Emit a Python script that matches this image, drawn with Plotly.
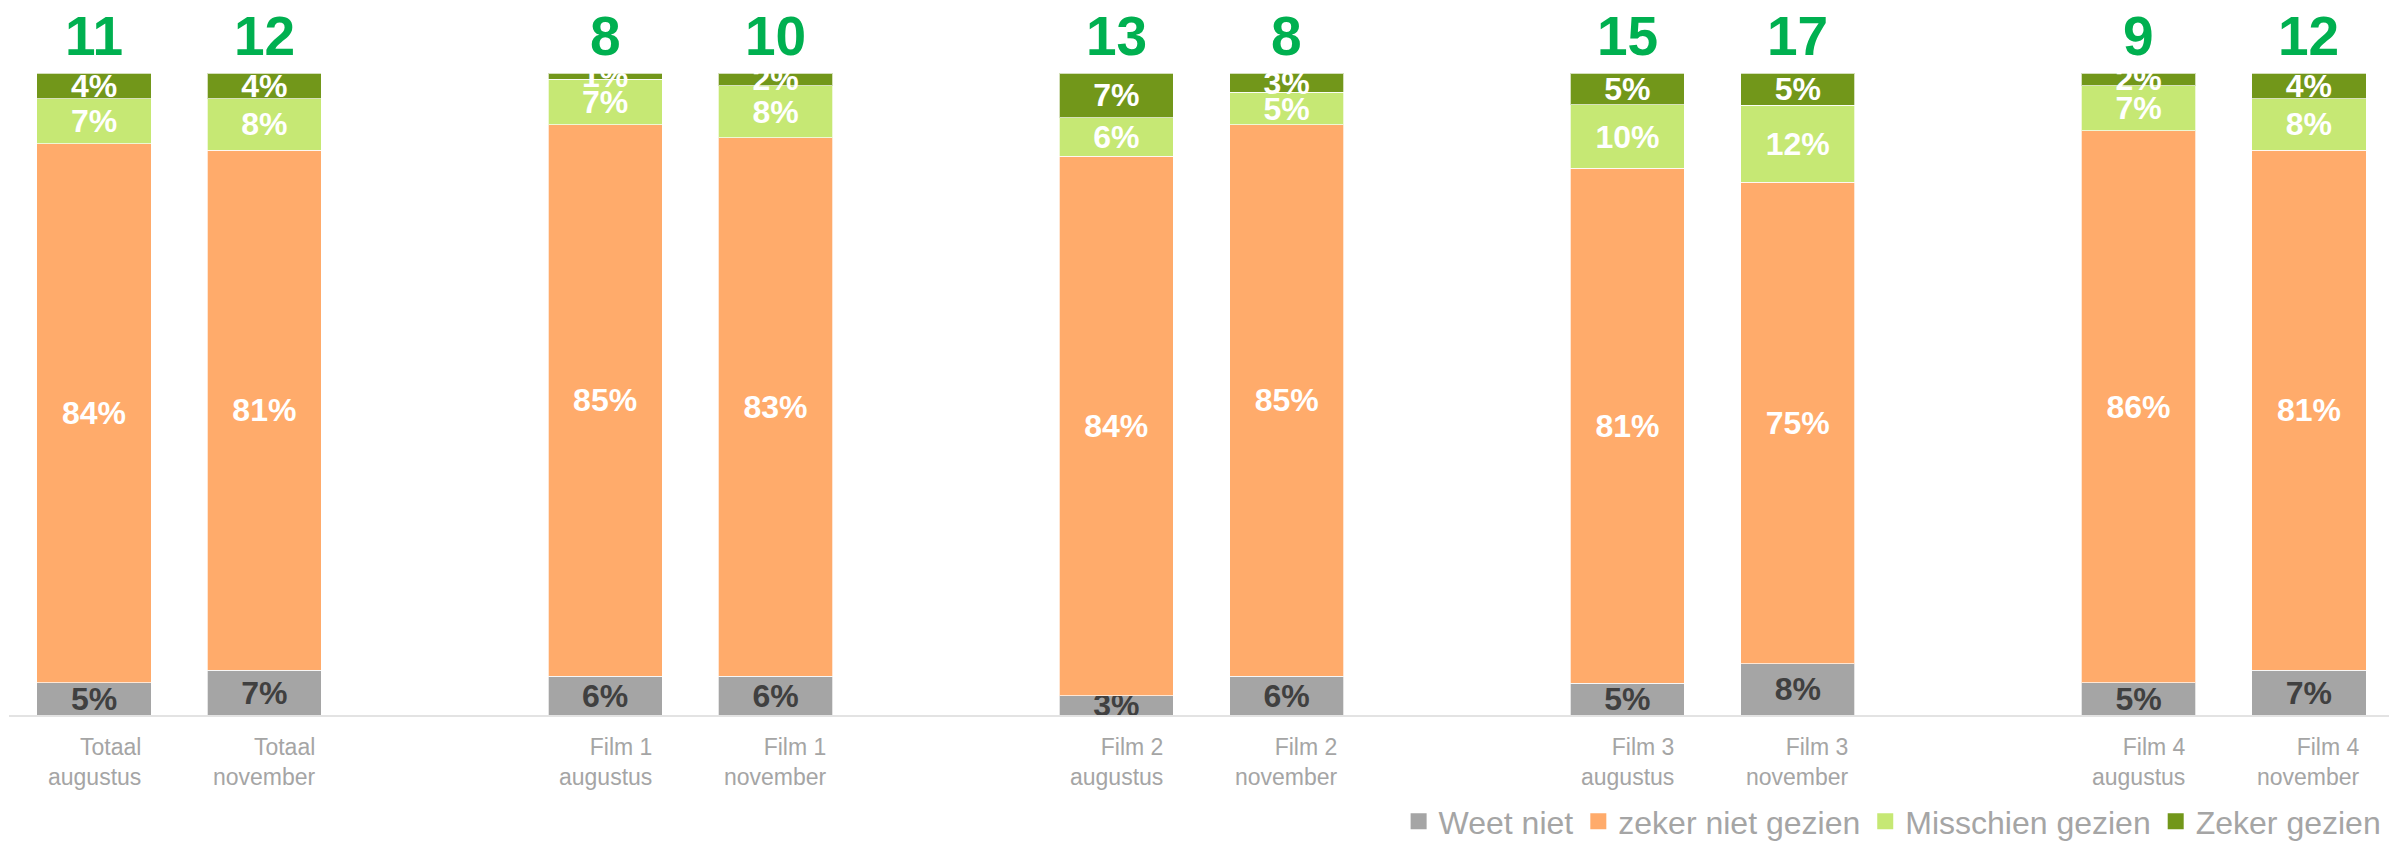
import plotly.graph_objects as go

groups = ["Totaal", "Film 1", "Film 2", "Film 3", "Film 4"]
months = ["augustus", "november"]

weet_niet = [5, 7, 6, 6, 3, 6, 5, 8, 5, 7]
zeker_niet = [84, 81, 85, 83, 84, 85, 81, 75, 86, 81]
misschien = [7, 8, 7, 8, 6, 5, 10, 12, 7, 8]
zeker = [4, 4, 1, 2, 7, 3, 5, 5, 2, 4]

series_names = ["Weet niet", "zeker niet gezien", "Misschien gezien", "Zeker gezien"]
series_values = [weet_niet, zeker_niet, misschien, zeker]
series_colors = ["#A5A5A5", "#FFAB6B", "#C6E874", "#72971A"]
text_colors = ["#404040", "white", "white", "white"]

# positions: two bars per group, one empty slot between groups
xpos = []
labels = []
for gi, g in enumerate(groups):
    for mi, m in enumerate(months):
        xpos.append(gi * 3 + mi)
        labels.append(f"{g}<br>{m}")

top_numbers = [a + b for a, b in zip(zeker, misschien)]

FONT = "Liberation Sans, Arial, sans-serif"

fig = go.Figure()
for name, vals, col, tc in zip(series_names, series_values, series_colors, text_colors):
    fig.add_trace(go.Bar(
        x=xpos, y=vals, name=name, showlegend=False,
        marker=dict(color=col, line=dict(color="rgba(255,255,255,0.7)", width=1)),
        width=0.67,
        text=[f"{v}%" for v in vals],
        texttemplate="%{text}",
        textposition="inside",
        insidetextanchor="middle",
        textangle=0,
        textfont=dict(family=FONT, size=32, color=tc, weight="bold"),
        hoverinfo="skip",
    ))

# legend entries with larger square swatches
for name, col in zip(series_names, series_colors):
    fig.add_trace(go.Scatter(
        x=[None], y=[None], mode="markers", name=name,
        marker=dict(symbol="square", size=16, color=col),
        hoverinfo="skip",
    ))

for x, n in zip(xpos, top_numbers):
    fig.add_annotation(x=x, y=1, xref="x", yref="paper", yanchor="middle",
                       yshift=37, text=f"<b>{n}</b>", showarrow=False,
                       font=dict(family=FONT, size=55, color="#00B050"))

for x, lab in zip(xpos, labels):
    fig.add_annotation(x=x, y=0, xref="x", yref="paper", yanchor="middle",
                       yshift=-47, text=lab, showarrow=False, align="right",
                       font=dict(family=FONT, size=23, color="#A5A5A5"))

fig.update_layout(
    barmode="stack",
    barnorm="percent",
    width=2389, height=841,
    margin=dict(l=9, r=0, t=73, b=126, pad=0, autoexpand=False),
    paper_bgcolor="white", plot_bgcolor="white",
    uniformtext=dict(minsize=32, mode="show"),
    showlegend=True,
    legend=dict(orientation="h", x=0.999, xanchor="right", y=-0.166, yanchor="middle",
                font=dict(family=FONT, size=32, color="#A5A5A5"),
                itemclick=False, itemdoubleclick=False, traceorder="normal",
                itemsizing="trace", bgcolor="rgba(0,0,0,0)"),
    xaxis=dict(range=[-0.4989, 13.47], showticklabels=False, showgrid=False,
               zeroline=False, showline=True, linecolor="#E3E3E3", linewidth=2,
               ticks=""),
    yaxis=dict(range=[0, 100], showticklabels=False, showgrid=False, zeroline=False,
               showline=False),
)

fig.write_html("out.html", config={"displayModeBar": False},
               post_script="document.body.style.margin='0';document.body.style.overflow='hidden';")
